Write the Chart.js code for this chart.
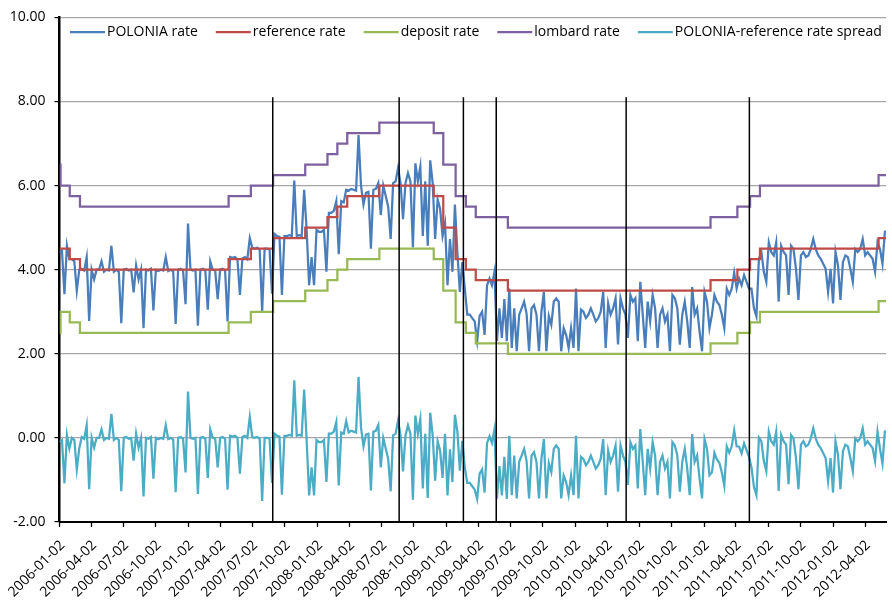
<!DOCTYPE html>
<html>
<head>
<meta charset="utf-8">
<script src="https://cdn.jsdelivr.net/npm/chart.js@4.4.1/dist/chart.umd.min.js"></script>
<style>
  html, body { margin: 0; padding: 0; background: #fff; }
  #wrap { width: 892px; height: 600px; }
</style>
</head>
<body>
<div id="wrap"><canvas id="chart" width="892" height="600"></canvas></div>
<script>
// x axis tick labels (quarterly)
const tickLabels = [
    '2006-01-02', '2006-04-02', '2006-07-02', '2006-10-02',
    '2007-01-02', '2007-04-02', '2007-07-02', '2007-10-02',
    '2008-01-02', '2008-04-02', '2008-07-02', '2008-10-02',
    '2009-01-02', '2009-04-02', '2009-07-02', '2009-10-02',
    '2010-01-02', '2010-04-02', '2010-07-02', '2010-10-02',
    '2011-01-02', '2011-04-02', '2011-07-02', '2011-10-02',
    '2012-01-02', '2012-04-02'
];
const axisEnd = '2012-05-31';

// NBP rate changes (value valid from that date on)
const rateDates = [
    '2006-01-02', '2006-01-05', '2006-01-31', '2006-03-01', '2007-04-26', '2007-06-28',
    '2007-08-30', '2007-11-29', '2008-01-31', '2008-02-28', '2008-03-27', '2008-06-26',
    '2008-11-27', '2008-12-24', '2009-01-28', '2009-02-26', '2009-03-26', '2009-06-25',
    '2011-01-20', '2011-04-06', '2011-05-12', '2011-06-09', '2012-05-10', '2012-05-31'
];
const referenceRate = [4.50, 4.50, 4.25, 4.00, 4.25, 4.50, 4.75, 5.00, 5.25, 5.50, 5.75, 6.00,
    5.75, 5.00, 4.25, 4.00, 3.75, 3.50, 3.75, 4.00, 4.25, 4.50, 4.75, 4.75];
const depositRate = [2.50, 3.00, 2.75, 2.50, 2.75, 3.00, 3.25, 3.50, 3.75, 4.00, 4.25, 4.50,
    4.25, 3.50, 2.75, 2.50, 2.25, 2.00, 2.25, 2.50, 2.75, 3.00, 3.25, 3.25];
const lombardRate = [6.50, 6.00, 5.75, 5.50, 5.75, 6.00, 6.25, 6.50, 6.75, 7.00, 7.25, 7.50,
    7.25, 6.50, 5.75, 5.50, 5.25, 5.00, 5.25, 5.50, 5.75, 6.00, 6.25, 6.25];

// POLONIA, one reading per week starting 2006-01-02
const poloniaStart = '2006-01-02';
const poloniaStepDays = 7;
const poloniaRate = [
    4.40, 4.45, 3.42, 4.57, 4.25, 4.25, 4.20, 3.50, 4.00, 4.02,
    3.98, 4.30, 2.78, 4.00, 3.77, 4.00, 4.00, 4.20, 3.95, 4.00,
    3.98, 4.57, 3.95, 4.00, 3.95, 2.73, 4.00, 4.02, 3.98, 4.00,
    3.46, 4.10, 3.77, 4.00, 2.61, 4.00, 3.98, 4.02, 3.03, 4.00,
    3.97, 4.00, 3.98, 4.30, 3.97, 4.00, 3.96, 2.71, 4.00, 4.02,
    3.98, 3.18, 5.10, 4.00, 3.98, 4.00, 2.67, 4.00, 4.02, 3.98,
    3.05, 4.20, 4.00, 3.98, 3.30, 4.00, 4.02, 3.98, 2.77, 4.30,
    4.28, 4.30, 4.25, 3.40, 4.27, 4.30, 4.25, 4.75, 4.52, 4.50,
    4.52, 4.48, 3.00, 4.50, 4.50, 4.48, 3.43, 4.85, 4.80, 4.78,
    3.40, 4.80, 4.80, 4.82, 4.80, 6.12, 4.80, 4.82, 4.80, 5.90,
    4.95, 3.63, 4.30, 3.63, 4.95, 4.90, 4.90, 4.95, 3.95, 5.35,
    5.35, 5.40, 5.63, 4.37, 5.63, 5.60, 5.90, 5.88, 5.92, 5.90,
    5.88, 7.20, 6.00, 5.55, 5.83, 5.85, 4.50, 5.90, 5.92, 6.06,
    5.30, 6.00, 5.75, 5.50, 4.73, 6.06, 6.10, 6.42, 6.06, 5.20,
    6.06, 6.30, 6.10, 4.53, 6.53, 6.10, 6.45, 4.80, 6.10, 4.57,
    6.60, 6.06, 4.73, 5.67, 5.45, 4.80, 5.10, 3.63, 4.73, 3.95,
    5.55, 4.40, 3.47, 4.18, 3.55, 2.93, 2.93, 2.85, 2.77, 2.30,
    2.90, 3.00, 2.45, 3.63, 3.79, 3.63, 3.95, 2.30, 3.08, 2.38,
    3.30, 2.30, 3.55, 2.14, 3.08, 2.06, 2.93, 3.08, 3.24, 2.95,
    2.06, 3.08, 3.16, 2.93, 2.06, 3.00, 3.47, 2.06, 2.90, 2.69,
    3.24, 3.32, 3.24, 2.06, 2.61, 2.45, 2.14, 2.61, 2.14, 3.55,
    2.06, 3.05, 3.00, 2.85, 2.93, 3.08, 2.93, 2.77, 2.85, 3.00,
    3.47, 2.14, 3.20, 2.93, 3.08, 3.32, 2.22, 3.32, 3.08, 2.93,
    2.38, 3.40, 3.24, 3.32, 2.30, 3.71, 2.93, 2.14, 3.24, 2.77,
    3.40, 3.08, 2.14, 2.93, 3.08, 2.77, 2.93, 2.06, 3.40, 3.32,
    3.08, 2.22, 2.93, 3.24, 2.77, 2.14, 3.59, 2.93, 3.08, 2.53,
    2.06, 3.47, 3.24, 2.61, 2.93, 3.40, 3.24, 3.16, 2.93, 2.61,
    3.55, 3.40, 3.55, 3.93, 3.55, 3.79, 3.63, 3.87, 3.71, 3.55,
    3.55, 3.08, 2.89, 4.26, 4.42, 3.95, 3.71, 4.65, 4.42, 4.34,
    4.65, 3.24, 4.57, 4.42, 4.34, 3.40, 4.57, 4.49, 4.02, 3.28,
    4.34, 4.42, 4.30, 4.34, 4.49, 4.73, 4.49, 4.34, 4.26, 4.14,
    4.02, 3.47, 4.02, 3.20, 4.42, 4.10, 3.28, 4.18, 4.34, 4.30,
    4.02, 3.71, 4.49, 4.42, 4.49, 4.73, 4.34, 4.42, 4.34, 4.26,
    3.95, 4.65, 4.49, 4.14, 4.93
];

// vertical marker lines
const markerDates = ['2007-08-29', '2008-08-21', '2009-02-19', '2009-05-23', '2010-05-26', '2011-05-10'];
const markerRange = [-2, 8.1];

const seriesNames = ['POLONIA rate', 'reference rate', 'deposit rate', 'lombard rate', 'POLONIA-reference rate spread'];
const seriesColors = ['#4a7ebb', '#be4b48', '#98b954', '#7d60a0', '#4bacc6'];

const FONT = '"Open Sans", "DejaVu Sans", sans-serif';
const t0 = Date.parse(poloniaStart + 'T00:00:00Z');
const dayOf = s => (Date.parse(s + 'T00:00:00Z') - t0) / 86400000;
const dateOf = d => new Date(t0 + d * 86400000).toISOString().slice(0, 10);

const rateDays = rateDates.map(dayOf);
function refAt(day) {
    let v = referenceRate[0];
    rateDays.forEach((d, i) => { if (day >= d) v = referenceRate[i]; });
    return v;
}

const poloniaPoints = poloniaRate.map((v, i) => ({ x: i * poloniaStepDays, y: v }));
const spreadPoints = poloniaPoints.map(p => ({ x: p.x, y: +(p.y - refAt(p.x)).toFixed(2) }));
const stepPoints = arr => arr.map((v, i) => ({ x: rateDays[i], y: v }));

const markerPoints = [];
markerDates.forEach(s => {
    const d = dayOf(s);
    markerPoints.push({ x: d, y: markerRange[0] }, { x: d, y: markerRange[1] }, { x: d, y: null });
});

const insideLegend = {
    id: 'insideLegend',
    afterDraw(chart) {
        const ctx = chart.ctx;
        ctx.save();
        ctx.font = '14px ' + FONT;
        ctx.textBaseline = 'middle';
        ctx.fillStyle = '#000';
        let x = 70;
        const y = 32;
        seriesNames.forEach((name, i) => {
            ctx.strokeStyle = seriesColors[i];
            ctx.lineWidth = 2.25;
            ctx.beginPath();
            ctx.moveTo(x, y);
            ctx.lineTo(x + 35, y);
            ctx.stroke();
            x += 37;
            ctx.fillText(name, x, y);
            x += ctx.measureText(name).width + 18;
        });
        ctx.restore();
    }
};

const lineDefaults = { pointRadius: 0, borderWidth: 2.25, fill: false, tension: 0 };

new Chart(document.getElementById('chart'), {
    type: 'line',
    data: {
        datasets: [
            { ...lineDefaults, label: seriesNames[0], data: poloniaPoints, borderColor: seriesColors[0], order: 6 },
            { ...lineDefaults, label: seriesNames[1], data: stepPoints(referenceRate), borderColor: seriesColors[1], stepped: true, order: 5 },
            { ...lineDefaults, label: seriesNames[2], data: stepPoints(depositRate), borderColor: seriesColors[2], stepped: true, order: 4 },
            { ...lineDefaults, label: seriesNames[3], data: stepPoints(lombardRate), borderColor: seriesColors[3], stepped: true, order: 3 },
            { ...lineDefaults, label: seriesNames[4], data: spreadPoints, borderColor: seriesColors[4], order: 2 },
            { ...lineDefaults, label: 'markers', data: markerPoints, borderColor: '#000', borderWidth: 1.5, spanGaps: false, order: 1 }
        ]
    },
    options: {
        responsive: false,
        animation: false,
        layout: { padding: { top: 12, right: 6, left: 0, bottom: 0 } },
        plugins: { legend: { display: false }, tooltip: { enabled: false } },
        scales: {
            x: {
                type: 'linear',
                min: 0,
                max: dayOf(axisEnd),
                afterBuildTicks: s => { s.ticks = tickLabels.map(t => ({ value: dayOf(t) })); },
                afterFit: s => { s.height = 78; s.paddingLeft = 0; s.paddingRight = 0; },
                grid: { display: true, drawOnChartArea: false, tickLength: 5, tickColor: '#000', tickWidth: 1.3 },
                border: { color: '#000', width: 2 },
                ticks: {
                    autoSkip: false, minRotation: 45, maxRotation: 45, padding: 10, labelOffset: 3,
                    color: '#000', font: { family: FONT, size: 14 },
                    callback: v => dateOf(v)
                }
            },
            y: {
                min: -2,
                max: 10,
                afterFit: s => { s.width = 59.5; },
                grid: { color: '#a6a6a6', lineWidth: 1.2, tickColor: '#000', tickLength: 5 },
                border: { color: '#000', width: 2.5 },
                ticks: {
                    stepSize: 2, padding: 9, color: '#000', font: { family: FONT, size: 14 },
                    callback: v => v.toFixed(2)
                }
            }
        }
    },
    plugins: [insideLegend]
});
</script>
</body>
</html>
